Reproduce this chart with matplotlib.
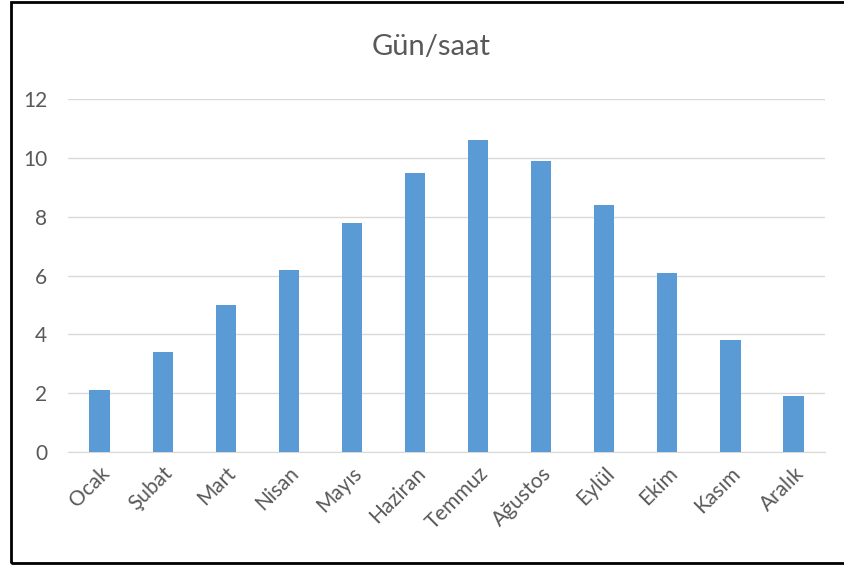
import numpy as np
import matplotlib.pyplot as plt
from matplotlib.patches import Rectangle

plt.rcParams['font.family'] = ['Lato', 'DejaVu Sans']

months = ['Ocak', 'Şubat', 'Mart', 'Nisan', 'Mayıs', 'Haziran',
          'Temmuz', 'Ağustos', 'Eylül', 'Ekim', 'Kasım', 'Aralık']
hours = [2.1, 3.4, 5.0, 6.2, 7.8, 9.5, 10.6, 9.9, 8.4, 6.1, 3.8, 1.9]
y_ticks = [0, 2, 4, 6, 8, 10, 12]

text_col = '#595959'
grid_col = '#D9D9D9'

fig = plt.figure(figsize=(8.44, 5.67), dpi=100)
ax = fig.add_axes([0.0806, 0.2028, 0.897, 0.6226])

x = np.arange(len(months))
ax.bar(x, hours, width=0.32, color='#5B9BD5', zorder=3)

ax.set_xlim(-0.5, len(months) - 0.5)
ax.set_ylim(0, 12)
ax.set_yticks(y_ticks)
ax.set_yticklabels([str(t) for t in y_ticks])
ax.set_xticks(x)
ax.set_xticklabels(months, rotation=45, ha='right', va='top',
                   rotation_mode='anchor')

ax.grid(axis='y', color=grid_col, lw=1.0, zorder=0)
for s in ['top', 'right', 'left']:
    ax.spines[s].set_visible(False)
ax.spines['bottom'].set_color(grid_col)
ax.tick_params(axis='both', length=0, labelsize=15, colors=text_col)
ax.tick_params(axis='y', pad=15)
ax.tick_params(axis='x', pad=8)

fig.text(0.511, 0.917, 'Gün/saat', ha='center', va='center',
         fontsize=21, color=text_col)

# outer frame of the chart object
fig.add_artist(Rectangle((11 / 844, 4 / 567), 1.0, 1 - 6 / 567,
                         transform=fig.transFigure, fill=False,
                         edgecolor='black', lw=2.0))

fig.savefig('out.png', dpi=100)
